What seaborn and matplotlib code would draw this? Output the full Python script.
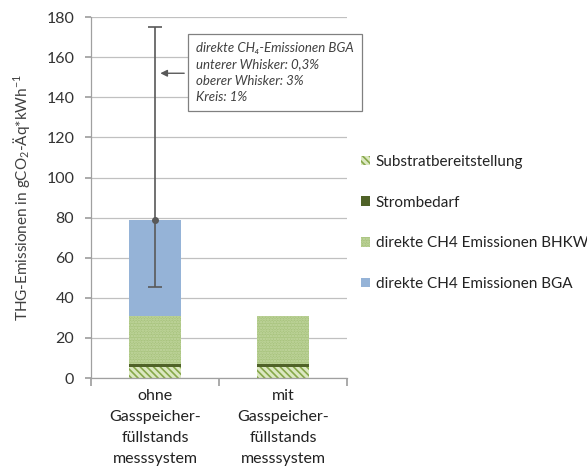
import matplotlib
matplotlib.use("Agg")
import matplotlib.pyplot as plt
from matplotlib.patches import Patch
import pandas as pd
import seaborn as sns

categories = ["ohne\nGasspeicher-\nfüllstands\nmesssystem",
              "mit\nGasspeicher-\nfüllstands\nmesssystem"]
substrat = [5.5, 5.5]
strom = [1.5, 1.5]
bhkw = [24.0, 24.0]
bga = [48.0, 0.0]

# error bar on the BGA emissions of the first bar
err_center = 79.0
err_low = 45.5
err_high = 175.0

note_text = ("direkte CH\u2084-Emissionen BGA\n"
             "unterer Whisker: 0,3%\n"
             "oberer Whisker: 3%\n"
             "Kreis: 1%")

sns.set_theme(style="white")
plt.rcParams["font.family"] = ["Lato", "DejaVu Sans"]
plt.rcParams["mathtext.fontset"] = "custom"
plt.rcParams["mathtext.rm"] = "Lato"
plt.rcParams["mathtext.it"] = "Lato:italic"
plt.rcParams["hatch.linewidth"] = 1.2

df = pd.DataFrame({"cat": categories, "substrat": substrat, "strom": strom,
                   "bhkw": bhkw, "bga": bga})
df["c1"] = df["substrat"]
df["c2"] = df["c1"] + df["strom"]
df["c3"] = df["c2"] + df["bhkw"]
df["c4"] = df["c3"] + df["bga"]

styles = {
    "Substratbereitstellung": dict(facecolor="#DCE8C2", edgecolor="#86A84A", hatch="\\\\\\\\\\"),
    "Strombedarf": dict(facecolor="#4F6228", edgecolor="#4F6228"),
    "direkte CH4 Emissionen BHKW": dict(facecolor="#A9C47F", edgecolor="#C4D8A2", hatch="......"),
    "direkte CH4 Emissionen BGA": dict(facecolor="#95B3D7", edgecolor="#95B3D7"),
}

fig = plt.figure(figsize=(5.87, 4.75), dpi=100)
ax = fig.add_axes([0.155, 0.204, 0.436, 0.760])

for col, lab in [("c4", "direkte CH4 Emissionen BGA"), ("c3", "direkte CH4 Emissionen BHKW"),
                 ("c2", "Strombedarf"), ("c1", "Substratbereitstellung")]:
    sns.barplot(data=df, x="cat", y=col, width=0.4, ax=ax, saturation=1,
                linewidth=0, **styles[lab])

ax.errorbar([0], [err_center], yerr=[[err_center - err_low], [err_high - err_center]],
            fmt="o", color="#595959", ms=4, capsize=5, elinewidth=1.2, capthick=1.2)

ax.set_ylim(0, 180)
ax.set_xlim(-0.5, 1.5)
ax.set_yticks(range(0, 181, 20))
ax.yaxis.grid(True, color="#C0C0C0", linewidth=0.9)
ax.set_axisbelow(True)
ax.set_xlabel("")
ax.set_ylabel("THG-Emissionen in gCO$_2$-Äq*kWh$^{-1}$", fontsize=11, color="#404040", labelpad=10)

ax.set_xticks([-0.5, 0.5, 1.5])
ax.set_xticklabels([])
ax.set_xticks([0, 1], minor=True)
ax.set_xticklabels(categories, minor=True, fontsize=11.5, color="#222222", linespacing=1.62)
ax.tick_params(axis="x", which="major", length=6, color="#A0A0A0", direction="out", bottom=True)
ax.tick_params(axis="x", which="minor", length=0, pad=8)
ax.tick_params(axis="y", length=4, color="#A0A0A0", direction="out", left=True,
               labelsize=11.5, labelcolor="#333333", pad=8)

for s in ["top", "right"]:
    ax.spines[s].set_visible(False)
for s in ["left", "bottom"]:
    ax.spines[s].set_color("#A0A0A0")
    ax.spines[s].set_linewidth(0.9)

ax.annotate("", xy=(0.02, 152), xytext=(0.25, 152),
            arrowprops=dict(arrowstyle="-|>", color="#595959", lw=1, mutation_scale=10),
            annotation_clip=False)
ax.text(0.32, 152.5, note_text, fontsize=9.5, style="italic", color="#404040",
        ha="left", va="center", linespacing=1.45,
        bbox=dict(boxstyle="square,pad=0.6", facecolor="white", edgecolor="#808080", linewidth=0.9),
        clip_on=False)

order = ["Substratbereitstellung", "Strombedarf",
         "direkte CH4 Emissionen BHKW", "direkte CH4 Emissionen BGA"]
handles = [Patch(linewidth=0, **styles[l]) for l in order]
ax.legend(handles, order, loc="center left", bbox_to_anchor=(1.0, 0.43), frameon=False,
          fontsize=11, handlelength=0.6, handleheight=0.6, handletextpad=0.4,
          labelspacing=1.75, labelcolor="#222222")

fig.savefig("out.png", dpi=100)
